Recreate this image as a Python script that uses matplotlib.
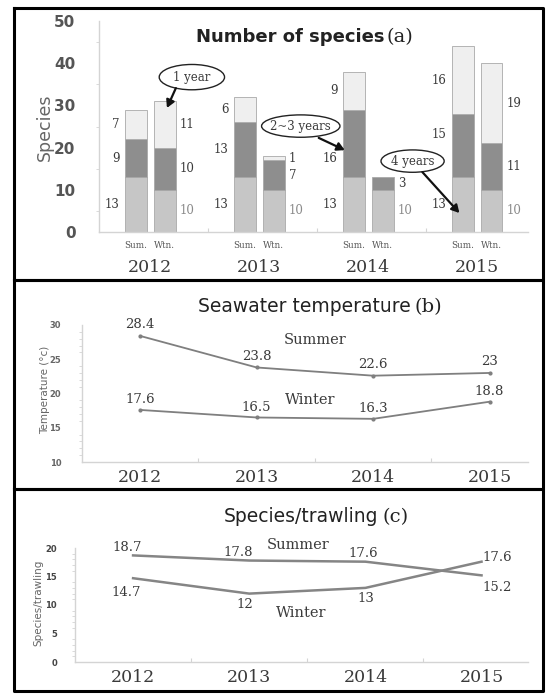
import numpy as np
import matplotlib.pyplot as plt
from matplotlib.lines import Line2D
from matplotlib.patches import Ellipse

W, H = 546, 694

years = ['2012', '2013', '2014', '2015']

# número de especies por permanencia (4 años abajo, 2~3 años, 1 año arriba)
sum_4yr = [13, 13, 13, 13]
sum_23yr = [9, 13, 16, 15]
sum_1yr = [7, 6, 9, 16]
win_4yr = [10, 10, 10, 10]
win_23yr = [10, 7, 3, 11]
win_1yr = [11, 1, 0, 19]

# temperatura del agua
temp_sum = [28.4, 23.8, 22.6, 23]
temp_win = [17.6, 16.5, 16.3, 18.8]

# especies por arrastre
trawl_sum = [18.7, 17.8, 17.6, 15.2]
trawl_win = [14.7, 12, 13, 17.6]

SERIF = 'DejaVu Serif'
SANS = 'DejaVu Sans'
TXT = '#3a3a3a'
AXC = '#d4d4d4'


def fpos(x, y):
    # pixeles -> fraccion de figura
    return x / W, 1 - y / H


def estilo_ejes(ax):
    for s in ['top', 'right']:
        ax.spines[s].set_visible(False)
    for s in ['left', 'bottom']:
        ax.spines[s].set_color(AXC)
        ax.spines[s].set_linewidth(1.0)
    ax.set_xticks([0.5, 1.5, 2.5])
    ax.set_xticklabels([])
    ax.tick_params(axis='x', length=3, color=AXC, direction='in')
    ax.tick_params(axis='y', which='major', length=0)
    ax.tick_params(axis='y', which='minor', length=2.5, color=AXC)


fig = plt.figure(figsize=(W / 100, H / 100), dpi=100)

# ---------------- (a) número de especies ----------------
ax = fig.add_axes([99 / W, 1 - 232 / H, 429 / W, 211 / H])
estilo_ejes(ax)
x = np.arange(len(years))
xs = x - 0.16
xw = x + 0.105
bw = 0.2
c_bajo, c_medio, c_alto = '#c6c6c6', '#8e8e8e', '#efefef'
edge = '#a9a9a9'

sb = np.array(sum_4yr)
sm = np.array(sum_23yr)
st = np.array(sum_1yr)
wb = np.array(win_4yr)
wm = np.array(win_23yr)
wt = np.array(win_1yr)

ax.bar(xs, sb, bw, color=c_bajo, edgecolor=edge, lw=0.6)
ax.bar(xs, sm, bw, bottom=sb, color=c_medio, edgecolor=edge, lw=0.6)
ax.bar(xs, st, bw, bottom=sb + sm, color=c_alto, edgecolor=edge, lw=0.6)
ax.bar(xw, wb, bw, color=c_bajo, edgecolor=edge, lw=0.6)
ax.bar(xw, wm, bw, bottom=wb, color=c_medio, edgecolor=edge, lw=0.6)
ax.bar(xw[wt > 0], wt[wt > 0], bw, bottom=(wb + wm)[wt > 0],
       color=c_alto, edgecolor=edge, lw=0.6)

ax.set_xlim(-0.5, 3.44)
ax.set_ylim(0, 50)
ax.set_yticks(range(0, 51, 10))
ax.set_yticks(range(5, 50, 10), minor=True)
ax.tick_params(axis='y', pad=17)
for lab in ax.get_yticklabels():
    lab.set_fontweight('bold')
    lab.set_fontsize(11)
    lab.set_color('#555555')

# etiquetas de cada segmento (algunas corridas para no chocar con las flechas)
ajuste_medio = [0, 0, -3.5, 2.5]
for i in range(len(years)):
    for k, (low, val) in enumerate([(0, sb[i]), (sb[i], sm[i]),
                                     (sb[i] + sm[i], st[i])]):
        yy = low + val / 2 + (ajuste_medio[i] if k == 1 else 0)
        ax.annotate(str(val), (xs[i] - bw / 2, yy), xytext=(-4, 0),
                    textcoords='offset points', ha='right', va='center',
                    family=SERIF, fontsize=8.5, color=TXT)
    for k, (low, val) in enumerate([(0, wb[i]), (wb[i], wm[i]),
                                     (wb[i] + wm[i], wt[i])]):
        if val == 0:
            continue
        ax.annotate(str(val), (xw[i] + bw / 2, low + val / 2), xytext=(3, 0),
                    textcoords='offset points', ha='left', va='center',
                    family=SERIF, fontsize=8.5,
                    color='#8a8a8a' if k == 0 else TXT)

tr = ax.get_xaxis_transform()
for i in range(len(years)):
    ax.text(xs[i], -0.062, 'Sum.', transform=tr, ha='center', va='center',
            family=SERIF, fontsize=6.3, color='#555555')
    ax.text(xw[i], -0.062, 'Wtn.', transform=tr, ha='center', va='center',
            family=SERIF, fontsize=6.3, color='#555555')
    ax.text(x[i] - 0.03, -0.166, years[i], transform=tr, ha='center',
            va='center', family=SERIF, fontsize=12.5, color=TXT)

# globos: texto, centro, ancho, alto, inicio y punta de la flecha
globos = [('1 year', (0.353, 36.7), 0.6, 6.0, (0.206, 34.1), (0.124, 29.4)),
          ('2~3 years', (1.353, 25.1), 0.72, 5.3, (1.518, 22.3), (1.757, 19.4)),
          ('4 years', (2.38, 16.8), 0.58, 5.3, (2.47, 14.2), (2.81, 4.5))]
for txt, c, ew, eh, ini, tip in globos:
    ax.add_patch(Ellipse(c, ew, eh, fc='white', ec='#222222', lw=1.0, zorder=4))
    ax.text(c[0], c[1], txt, ha='center', va='center', family=SERIF,
            fontsize=8.5, color=TXT, zorder=5)
    ax.annotate('', xy=tip, xytext=ini, zorder=5,
                arrowprops=dict(arrowstyle='-|>,head_length=0.45,head_width=0.25',
                                color='#111111', lw=1.6, shrinkA=0, shrinkB=0))

fig.text(*fpos(384, 37), 'Number of species', ha='right', va='center',
         family=SANS, fontweight='bold', fontsize=13, color='#222222')
fig.text(*fpos(386, 37), '(a)', ha='left', va='center',
         family=SERIF, fontsize=14, color='#222222')
fig.text(*fpos(45, 127), 'Species', rotation=90, ha='center', va='center',
         family=SANS, fontsize=12.5, color='#666666')

# ---------------- (b) temperatura ----------------
ax = fig.add_axes([82 / W, 1 - 462 / H, 446 / W, 137 / H])
estilo_ejes(ax)
ax.plot(x, temp_sum, color='#7f7f7f', lw=1.3, marker='o', ms=2)
ax.plot(x, temp_win, color='#7f7f7f', lw=1.3, marker='o', ms=2)
ax.set_xlim(-0.5, 3.33)
ax.set_ylim(10, 30)
ax.set_yticks(range(10, 31, 5))
ax.set_yticks(range(10, 31, 1), minor=True)
ax.tick_params(axis='y', pad=15)
for lab in ax.get_yticklabels():
    lab.set_fontweight('bold')
    lab.set_fontsize(6)
    lab.set_color('#666666')
for i in range(len(years)):
    ax.annotate(f'{temp_sum[i]:g}', (x[i], temp_sum[i]), xytext=(0, 8),
                textcoords='offset points', ha='center', va='center',
                family=SERIF, fontsize=9.5, color=TXT)
    ax.annotate(f'{temp_win[i]:g}', (x[i], temp_win[i]), xytext=(0, 7.5),
                textcoords='offset points', ha='center', va='center',
                family=SERIF, fontsize=9.5, color=TXT)
ax.text(1.5, 27.8, 'Summer', ha='center', va='center', family=SERIF,
        fontsize=10.5, color=TXT)
ax.text(1.46, 19.05, 'Winter', ha='center', va='center', family=SERIF,
        fontsize=10.5, color=TXT)
tr = ax.get_xaxis_transform()
for i in range(len(years)):
    ax.text(x[i], -0.11, years[i], transform=tr, ha='center', va='center',
            family=SERIF, fontsize=12.5, color=TXT)
fig.text(*fpos(411, 307), 'Seawater temperature', ha='right', va='center',
         family=SANS, fontsize=13.5, color='#222222')
fig.text(*fpos(415, 307), '(b)', ha='left', va='center',
         family=SERIF, fontsize=14, color='#222222')
fig.text(*fpos(45, 390), 'Temperature (°c)', rotation=90, ha='center',
         va='center', family=SANS, fontsize=7.5, color='#666666')

# ---------------- (c) especies por arrastre ----------------
ax = fig.add_axes([75 / W, 1 - 662 / H, 453 / W, 114 / H])
estilo_ejes(ax)
ax.plot(x, trawl_sum, color='#858585', lw=1.8)
ax.plot(x, trawl_win, color='#858585', lw=1.8)
ax.set_xlim(-0.5, 3.4)
ax.set_ylim(0, 20)
ax.set_yticks(range(0, 21, 5))
ax.set_yticks(range(0, 21, 1), minor=True)
ax.tick_params(axis='y', pad=13)
for lab in ax.get_yticklabels():
    lab.set_fontweight('bold')
    lab.set_fontsize(6)
    lab.set_color('#444444')
off_sum = [(-4, 6), (-8, 6), (-1.5, 6), (11, -9)]
off_win = [(-5, -10), (-3, -8), (0, -7.5), (11, 3)]
for i in range(len(years)):
    ax.annotate(f'{trawl_sum[i]:g}', (x[i], trawl_sum[i]), xytext=off_sum[i],
                textcoords='offset points', ha='center', va='center',
                family=SERIF, fontsize=9.5, color=TXT)
    ax.annotate(f'{trawl_win[i]:g}', (x[i], trawl_win[i]), xytext=off_win[i],
                textcoords='offset points', ha='center', va='center',
                family=SERIF, fontsize=9.5, color=TXT)
ax.text(1.42, 20.5, 'Summer', ha='center', va='center', family=SERIF,
        fontsize=10.5, color=TXT, clip_on=False)
ax.text(1.45, 8.6, 'Winter', ha='center', va='center', family=SERIF,
        fontsize=10.5, color=TXT)
tr = ax.get_xaxis_transform()
for i in range(len(years)):
    ax.text(x[i], -0.14, years[i], transform=tr, ha='center', va='center',
            family=SERIF, fontsize=12.5, color=TXT)
fig.text(*fpos(378, 517), 'Species/trawling', ha='right', va='center',
         family=SANS, fontsize=13.5, color='#222222')
fig.text(*fpos(382, 517), '(c)', ha='left', va='center',
         family=SERIF, fontsize=14, color='#222222')
fig.text(*fpos(38, 603), 'Species/trawling', rotation=90, ha='center',
         va='center', family=SANS, fontsize=7.5, color='#666666')

# marcos negros de los tres paneles
for y0, y1 in [(8, 280), (280, 489), (489, 691)]:
    xa, ya = fpos(14, y0)
    xb, yb = fpos(543, y1)
    fig.add_artist(Line2D([xa, xb, xb, xa, xa], [ya, ya, yb, yb, ya],
                          color='black', lw=2.2, transform=fig.transFigure))

plt.savefig('out.png', dpi=100)
